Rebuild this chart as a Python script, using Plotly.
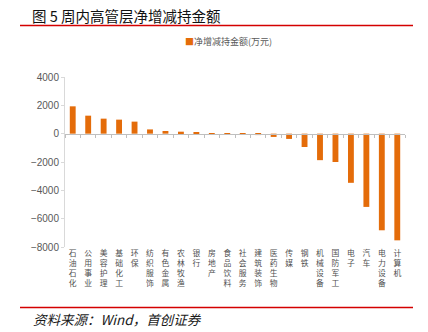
import numpy as np
import plotly.graph_objects as go

categories = ["石油石化", "公用事业", "美容护理", "基础化工", "环保", "纺织服饰", "有色金属",
              "农林牧渔", "银行", "房地产", "食品饮料", "社会服务", "建筑装饰", "医药生物",
              "传媒", "钢铁", "机械设备", "国防军工", "电子", "汽车", "电力设备", "计算机"]
values = [1930, 1270, 1060, 990, 850, 300, 190, 140, 70, 30, 25, 20, -100, -230,
          -370, -940, -1870, -2000, -3470, -5170, -6820, -7530]
y_ticks = [4000, 2000, 0, -2000, -4000, -6000, -8000]
title_text = "图 5 周内高管层净增减持金额"
legend_text = "净增减持金额(万元)"
source_text = "资料来源：Wind，首创证券"

W, H = 428, 332
L, R, T, B = 65, 23, 77, 85
PW, PH = W - L - R, H - T - B

def px(x):
    return (x - L) / PW

def py(y):
    return 1 - (y - T) / PH

ORANGE = "#E46C0A"
RED = "#D40000"
n = len(categories)
labels = ["<br>".join(list(c)) for c in categories]

fig = go.Figure()
fig.add_trace(go.Bar(x=list(range(n)), y=values, marker=dict(color=ORANGE, line=dict(width=0)),
                     name=legend_text, showlegend=False))
# invisible trace on xaxis2 to activate boundary ticks axis
fig.add_trace(go.Scatter(x=[-0.5, n - 0.5], y=[0, 0], xaxis="x2", mode="lines",
                         line=dict(width=0), hoverinfo="skip", showlegend=False))

fig.update_layout(
    width=W, height=H,
    margin=dict(l=L, r=R, t=T, b=B),
    paper_bgcolor="white", plot_bgcolor="white",
    bargap=0.62,
    font=dict(family="Noto Sans CJK SC", color="#404040"),
    xaxis=dict(range=[-0.5, n - 0.5], tickmode="array", tickvals=list(range(n)), ticktext=labels,
               tickangle=0, showline=False, ticks="", showgrid=False, zeroline=False,
               tickfont=dict(size=7.8, color="#505050", family="Noto Sans CJK SC")),
    xaxis2=dict(range=[-0.5, n - 0.5], overlaying="x", anchor="free",
                position=(0 - y_ticks[-1]) / (y_ticks[0] - y_ticks[-1]),
                tickmode="array", tickvals=list(np.arange(n + 1) - 0.5),
                showticklabels=False, ticks="outside", ticklen=3, tickcolor="#BFBFBF",
                showline=True, linecolor="#BFBFBF", linewidth=1, showgrid=False, zeroline=False,
                side="bottom"),
    yaxis=dict(range=[y_ticks[-1], y_ticks[0]], tickmode="array", tickvals=y_ticks,
               ticktext=[("−" + str(-v)) if v < 0 else str(v) for v in y_ticks],
               showline=True, linecolor="#D9D9D9", linewidth=1, showgrid=False, zeroline=False,
               ticks="outside", ticklen=3, tickcolor="#D9D9D9",
               tickfont=dict(size=10, color="#595959", family="Liberation Sans")),
)

# Title
fig.add_annotation(text=title_text, xref="paper", yref="paper", x=px(30), y=py(15.5),
                   xanchor="left", yanchor="middle", showarrow=False,
                   font=dict(size=14.5, color="#111111", family="Noto Sans CJK SC"))
# Legend
fig.add_annotation(text=f"<span style='color:{ORANGE}'>■</span>{legend_text}", xref="paper", yref="paper",
                   x=px(183), y=py(41), xanchor="left", yanchor="middle", showarrow=False,
                   font=dict(size=9, color="#595959", family="Noto Sans CJK SC"))
# Source
fig.add_annotation(text=f"<i>{source_text}</i>", xref="paper", yref="paper", x=px(31), y=py(319),
                   xanchor="left", yanchor="middle", showarrow=False,
                   font=dict(size=13.5, color="#1a1a1a", family="Noto Sans CJK SC"))

# Red rules
for yy in (25.5, 307.5):
    fig.add_shape(type="line", xref="paper", yref="paper", x0=px(20), x1=px(413), y0=py(yy), y1=py(yy),
                  line=dict(color=RED, width=1.5))

fig.write_html("out.html")
